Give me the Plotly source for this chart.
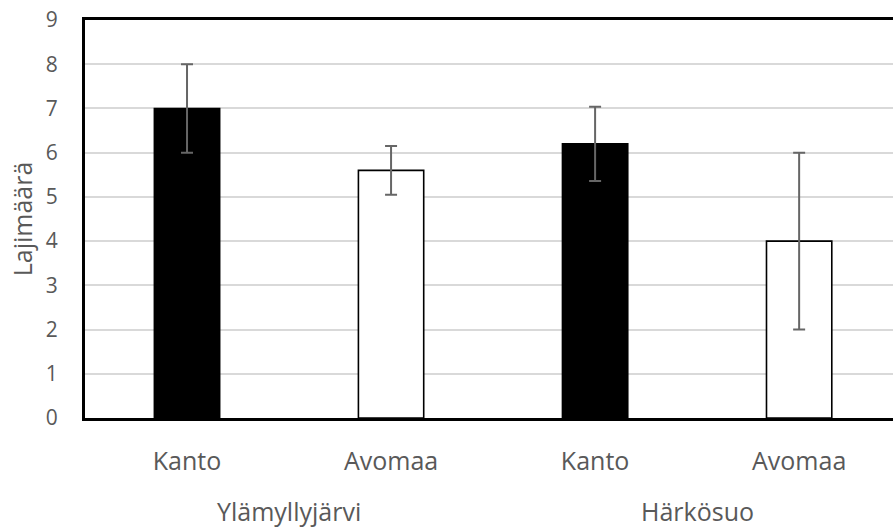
import plotly.graph_objects as go

# Species counts per site and habitat, with error margins
sites = ["Ylämyllyjärvi", "Härkösuo"]
habitats = ["Kanto", "Avomaa", "Kanto", "Avomaa"]
species_mean = [7.0, 5.6, 6.2, 4.0]
species_err = [1.0, 0.55, 0.84, 2.0]
bar_fill = ["#000000", "#ffffff", "#000000", "#ffffff"]
y_ticks = [0, 1, 2, 3, 4, 5, 6, 7, 8, 9]

positions = list(range(len(habitats)))
grey_text = "#595959"
font_family = "Open Sans, Noto Sans, sans-serif"

fig = go.Figure()
fig.add_trace(go.Bar(
    x=positions,
    y=species_mean,
    marker=dict(color=bar_fill, line=dict(color="#000000", width=1.6)),
    error_y=dict(type="data", array=species_err, visible=True,
                 color="#666666", thickness=2, width=6),
    showlegend=False,
))

# Site names centred under each pair of bars
for i, site in enumerate(sites):
    fig.add_annotation(
        x=(positions[2 * i] + positions[2 * i + 1]) / 2,
        xref="x", y=0.0, yref="paper", yshift=-93,
        text=site, showarrow=False,
        font=dict(family=font_family, size=25, color=grey_text),
        yanchor="middle",
    )

fig.update_layout(
    width=893, height=528,
    margin=dict(l=85, r=0, t=20, b=110, autoexpand=False),
    paper_bgcolor="#ffffff", plot_bgcolor="#ffffff",
    bargap=0.68,
    font=dict(family=font_family, color=grey_text),
)
fig.update_xaxes(
    range=[-0.5, 3.46],
    tickvals=positions, ticktext=habitats,
    tickfont=dict(size=25, color=grey_text),
    ticks="", ticklabelstandoff=19,
    showgrid=False, zeroline=False,
    showline=True, linecolor="#000000", linewidth=3, mirror=True,
    automargin=False,
)
fig.update_yaxes(
    range=[0, 9],
    tickvals=y_ticks,
    tickfont=dict(size=21, color=grey_text),
    ticks="", ticklabelstandoff=20,
    showgrid=True, gridcolor="#d9d9d9", gridwidth=1.5,
    zeroline=False,
    showline=True, linecolor="#000000", linewidth=3,
    title=dict(text="Lajimäärä", font=dict(size=25, color=grey_text), standoff=7),
    automargin=False,
)

fig.write_html("out.html")
